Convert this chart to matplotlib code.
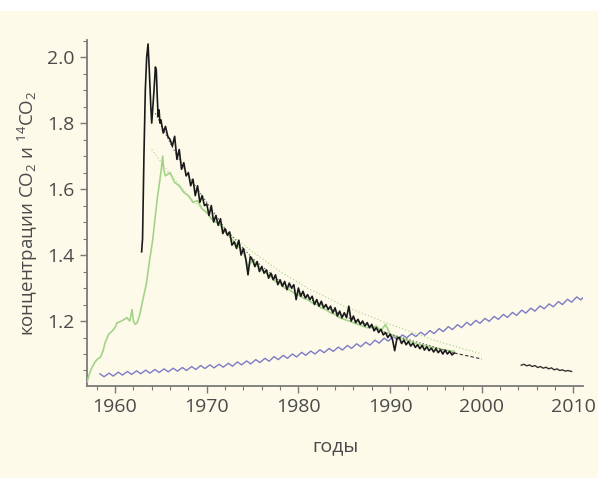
import numpy as np
import matplotlib
matplotlib.use("Agg")
import matplotlib.pyplot as plt
from matplotlib.patches import Rectangle
from matplotlib.ticker import MultipleLocator

# --- data ---
# atmospheric CO2, normalised: seasonal high (spring) and low (autumn) per year
co2_years = list(range(1958, 2012))
co2_high = [1.040, 1.042, 1.045, 1.047, 1.049, 1.051, 1.053, 1.055, 1.057, 1.059,
            1.062, 1.065, 1.067, 1.069, 1.072, 1.076, 1.079, 1.083, 1.087, 1.092,
            1.096, 1.100, 1.105, 1.109, 1.113, 1.117, 1.121, 1.126, 1.131, 1.136,
            1.142, 1.148, 1.153, 1.158, 1.162, 1.166, 1.171, 1.177, 1.183, 1.189,
            1.196, 1.202, 1.208, 1.214, 1.220, 1.226, 1.233, 1.239, 1.246, 1.252,
            1.259, 1.266, 1.273, 1.280]
co2_low = [1.031, 1.033, 1.036, 1.038, 1.040, 1.042, 1.044, 1.046, 1.048, 1.050,
           1.053, 1.056, 1.058, 1.060, 1.063, 1.067, 1.070, 1.074, 1.078, 1.083,
           1.087, 1.091, 1.096, 1.100, 1.104, 1.108, 1.112, 1.117, 1.122, 1.127,
           1.133, 1.139, 1.144, 1.149, 1.153, 1.157, 1.162, 1.168, 1.174, 1.180,
           1.187, 1.193, 1.199, 1.205, 1.211, 1.217, 1.224, 1.230, 1.237, 1.243,
           1.250, 1.257, 1.264]

# 14CO2, northern station: bomb peak
c14_peak_years = [1962.9, 1963.0, 1963.15, 1963.3, 1963.45, 1963.6, 1963.75, 1963.9,
                  1964.0, 1964.1, 1964.25, 1964.4, 1964.5, 1964.6, 1964.7, 1964.8, 1964.9]
c14_peak_vals = [1.41, 1.45, 1.70, 1.90, 2.00, 2.04, 1.95, 1.85,
                 1.80, 1.84, 1.90, 1.97, 1.96, 1.88, 1.82, 1.84, 1.80]
# quarterly values from 1965.0 to 1997.0
c14_start = 1965.0
c14_vals = [1.81, 1.77, 1.79, 1.76, 1.75, 1.73, 1.76, 1.69,
            1.72, 1.66, 1.68, 1.64, 1.65, 1.61, 1.63, 1.58,
            1.61, 1.56, 1.58, 1.55, 1.555, 1.52, 1.55, 1.50,
            1.52, 1.49, 1.51, 1.465, 1.48, 1.46, 1.47, 1.43,
            1.44, 1.42, 1.445, 1.40, 1.42, 1.39, 1.34, 1.395,
            1.385, 1.365, 1.38, 1.35, 1.365, 1.345, 1.355, 1.33,
            1.345, 1.325, 1.34, 1.31, 1.325, 1.305, 1.32, 1.295,
            1.315, 1.30, 1.31, 1.265, 1.30, 1.275, 1.29, 1.27,
            1.28, 1.265, 1.275, 1.25, 1.265, 1.245, 1.26, 1.24,
            1.25, 1.235, 1.245, 1.225, 1.24, 1.215, 1.23, 1.21,
            1.225, 1.21, 1.245, 1.20, 1.215, 1.195, 1.205, 1.19,
            1.20, 1.185, 1.195, 1.18, 1.19, 1.17, 1.18, 1.165,
            1.175, 1.158, 1.165, 1.15, 1.16, 1.145, 1.11, 1.148,
            1.15, 1.132, 1.142, 1.128, 1.138, 1.124, 1.133, 1.12,
            1.128, 1.116, 1.126, 1.112, 1.122, 1.11, 1.118, 1.106,
            1.116, 1.104, 1.113, 1.10, 1.112, 1.10, 1.108, 1.097,
            1.103]
c14_ext_years = [1997.0, 1998.0, 1999.0, 2000.0]
c14_ext_vals = [1.103, 1.097, 1.091, 1.085]
c14_fit_years = [1964.4, 1966, 1968, 1970, 1972, 1975, 1978, 1981, 1985, 1990, 1995, 1997]
c14_fit_vals = [1.83, 1.74, 1.64, 1.56, 1.48, 1.39, 1.32, 1.27, 1.215, 1.16, 1.12, 1.103]
c14_late_years = [2004.3, 2004.6, 2004.9, 2005.2, 2005.5, 2005.8, 2006.1, 2006.4, 2006.7,
                  2007.0, 2007.3, 2007.6, 2007.9, 2008.2, 2008.5, 2008.8, 2009.1, 2009.4, 2009.8]
c14_late_vals = [1.066, 1.069, 1.064, 1.067, 1.062, 1.065, 1.059, 1.062, 1.057,
                 1.060, 1.055, 1.058, 1.052, 1.055, 1.050, 1.052, 1.048, 1.050, 1.047]

# 14CO2, second record (green)
green_early_years = [1956.95, 1957.2, 1957.5, 1957.8, 1958.1, 1958.4, 1958.7, 1958.9, 1959.3,
                     1959.7, 1960.0, 1960.2, 1960.7, 1961.0, 1961.3, 1961.6, 1961.85, 1962.0,
                     1962.2, 1962.4, 1962.7, 1963.1, 1963.4, 1963.8, 1964.1, 1964.4, 1964.6,
                     1964.8, 1965.0, 1965.2, 1965.3]
green_early_vals = [1.015, 1.04, 1.06, 1.075, 1.085, 1.09, 1.11, 1.133, 1.16,
                    1.17, 1.18, 1.194, 1.20, 1.205, 1.21, 1.20, 1.235, 1.20,
                    1.19, 1.194, 1.22, 1.273, 1.31, 1.39, 1.445, 1.52, 1.57,
                    1.61, 1.65, 1.70, 1.66]
# half-yearly values from 1965.5 to 1997.0
green_start = 1965.5
green_vals = [1.64, 1.65, 1.62, 1.61, 1.59, 1.58, 1.56, 1.565, 1.54, 1.53,
              1.51, 1.50, 1.49, 1.47, 1.455, 1.44, 1.425, 1.41, 1.365, 1.385,
              1.37, 1.355, 1.345, 1.335, 1.32, 1.315, 1.30, 1.295, 1.285, 1.28,
              1.27, 1.265, 1.255, 1.25, 1.24, 1.235, 1.225, 1.22, 1.21, 1.205,
              1.20, 1.195, 1.19, 1.185, 1.18, 1.18, 1.185, 1.17, 1.19, 1.16,
              1.155, 1.15, 1.145, 1.14, 1.135, 1.13, 1.127, 1.124, 1.12, 1.118,
              1.115, 1.112, 1.11, 1.108]
green_fit_years = [1964.0, 1966, 1968, 1970, 1972, 1975, 1978, 1981, 1985, 1990, 1995, 2000]
green_fit_vals = [1.72, 1.645, 1.58, 1.525, 1.475, 1.41, 1.35, 1.30, 1.245, 1.19, 1.14, 1.10]

# --- drawing ---
plt.rcParams['font.family'] = ['Open Sans', 'DejaVu Sans']
plt.rcParams['mathtext.fontset'] = 'custom'
plt.rcParams['mathtext.rm'] = 'Open Sans'
plt.rcParams['mathtext.it'] = 'Open Sans'

bg = '#fdfae9'
txt = '#4a4a4a'
axcol = '#7a7a7a'
blue = '#7d7bc6'
green = '#a3d388'
black = '#1a1a1a'

fig = plt.figure(figsize=(5.98, 4.78), dpi=100)
fig.patch.set_facecolor('white')
fig.patches.append(Rectangle((0, 0), 1, 1 - 11 / 478, transform=fig.transFigure,
                             facecolor=bg, edgecolor='none', zorder=-10))

ax = fig.add_axes([87 / 598, 92 / 478, 496 / 598, 346 / 478])
ax.set_facecolor(bg)

# CO2 with seasonal cycle
co2_t = []
co2_v = []
for i, y in enumerate(co2_years):
    co2_t.append(y + 0.35)
    co2_v.append(co2_high[i])
    if i < len(co2_low):
        co2_t.append(y + 0.8)
        co2_v.append(co2_low[i])
ax.plot(co2_t, co2_v, color=blue, lw=1.0, zorder=2)

# green record
gt = list(green_early_years) + list(green_start + 0.5 * np.arange(len(green_vals)))
gv = list(green_early_vals) + list(green_vals)
ax.plot(green_fit_years, green_fit_vals, color=green, lw=0.8, ls=(0, (1, 2)), zorder=2)
ax.plot(gt, gv, color=green, lw=1.2, zorder=3)

# black record
bt = list(c14_peak_years) + list(c14_start + 0.25 * np.arange(len(c14_vals)))
bv = list(c14_peak_vals) + list(c14_vals)
ax.plot(c14_fit_years, c14_fit_vals, color='#555555', lw=0.7, ls=(0, (1.5, 2)), zorder=3)
ax.plot(bt, bv, color=black, lw=1.2, zorder=4)
ax.plot(c14_ext_years, c14_ext_vals, color='#333333', lw=0.8, ls=(0, (3, 2)), zorder=4)
ax.plot(c14_late_years, c14_late_vals, color='#333333', lw=1.0, zorder=4)

ax.set_xlim(1956.94, 2011.04)
ax.set_ylim(1.003, 2.052)

for s in ['top', 'right']:
    ax.spines[s].set_visible(False)
for s in ['left', 'bottom']:
    ax.spines[s].set_color(axcol)
    ax.spines[s].set_linewidth(1.3)

ax.set_xticks([1960, 1970, 1980, 1990, 2000, 2010])
ax.xaxis.set_minor_locator(MultipleLocator(2))
ax.set_yticks([1.2, 1.4, 1.6, 1.8, 2.0])
ax.set_yticklabels(['1.2', '1.4', '1.6', '1.8', '2.0'])
ax.yaxis.set_minor_locator(MultipleLocator(0.05))
ax.tick_params(which='major', length=5, width=1.0, color=axcol, labelsize=14,
               labelcolor=txt)
ax.tick_params(which='minor', length=3, width=0.8, color=axcol)
ax.tick_params(axis='x', pad=4)
ax.tick_params(axis='y', pad=4)

ax.set_xlabel('годы', fontsize=14, color=txt, labelpad=15)
ax.set_ylabel('концентрации CO$_2$ и $^{14}$CO$_2$', fontsize=13.5, color=txt, labelpad=5)

fig.savefig('out.png', dpi=100, facecolor=fig.get_facecolor())
